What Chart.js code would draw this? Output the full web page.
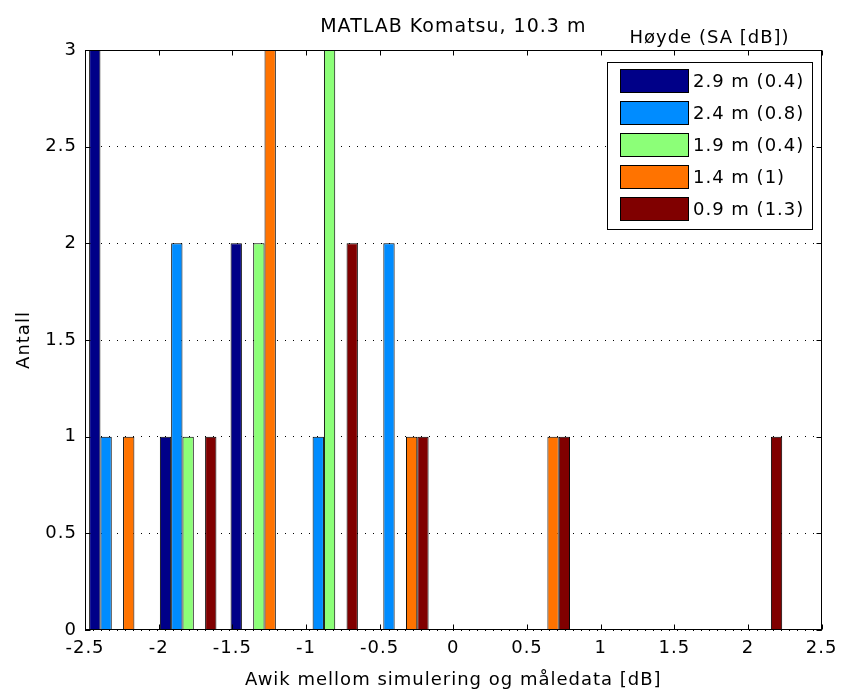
<!DOCTYPE html>
<html><head><meta charset="utf-8">
<script src="https://cdn.jsdelivr.net/npm/chart.js@4/dist/chart.umd.min.js"></script>
<style>html,body{margin:0;padding:0;background:#fff}#wrap{width:844px;height:690px;position:relative}</style>
</head><body><div id="wrap"><canvas id="c"></canvas></div>
<script>
// ---- data ----
const binCenters = [-2.28, -1.80, -1.32, -0.84, -0.36, 0.12, 0.60, 1.08, 1.56, 2.04];
const seriesLabels = ['2.9 m (0.4)', '2.4 m (0.8)', '1.9 m (0.4)', '1.4 m (1)', '0.9 m (1.3)'];
const counts29 = [3, 1, 2, 0, 0, 0, 0, 0, 0, 0];
const counts24 = [1, 2, 0, 1, 2, 0, 0, 0, 0, 0];
const counts19 = [0, 1, 2, 3, 0, 0, 0, 0, 0, 0];
const counts14 = [1, 0, 3, 0, 1, 0, 1, 0, 0, 0];
const counts09 = [0, 1, 0, 2, 1, 0, 1, 0, 0, 1];
const xTickValues = [-2.5, -2, -1.5, -1, -0.5, 0, 0.5, 1, 1.5, 2, 2.5];
const xTickLabels = ['-2.5', '-2', '-1.5', '-1', '-0.5', '0', '0.5', '1', '1.5', '2', '2.5'];
const yTickValues = [0, 0.5, 1, 1.5, 2, 2.5, 3];
const yTickLabels = ['0', '0.5', '1', '1.5', '2', '2.5', '3'];
const titleText = 'MATLAB Komatsu, 10.3 m';
const xTitle = 'Awik mellom simulering og måledata [dB]';
const yTitle = 'Antall';
const legendTitle = 'Høyde (SA [dB])';

// ---- styles ----
const seriesColors = ['#000088', '#008CFF', '#8CFF78', '#FF7300', '#800000'];
const FONT = '"DejaVu Sans", sans-serif';

const allCounts = [counts29, counts24, counts19, counts14, counts09];
const datasets = allCounts.map((arr, i) => ({
  label: seriesLabels[i],
  data: binCenters.map((x, j) => ({ x: x, y: arr[j] })),
  backgroundColor: seriesColors[i],
  borderColor: '#000',
  borderWidth: 1,
  borderSkipped: 'start',
  categoryPercentage: 0.8,
  barPercentage: 1.0
}));

const decor = {
  id: 'decor',
  beforeDraw(chart) {
    chart.ctx.letterSpacing = '1px';
  },
  afterDatasetsDraw(chart) {
    const { ctx, chartArea: a, scales: { x, y } } = chart;
    ctx.save();
    ctx.setLineDash([]);
    ctx.strokeStyle = '#000';
    ctx.lineWidth = 1;
    const L = Math.round(a.left) + 0.5, R = Math.round(a.right) - 0.5;
    const T = Math.round(a.top) + 0.5, B = Math.round(a.bottom) - 0.5;
    ctx.strokeRect(L, T, R - L, B - T);
    const tl = 5;
    ctx.beginPath();
    x.ticks.forEach(t => {
      const px = Math.round(x.getPixelForValue(t.value)) + 0.5;
      ctx.moveTo(px, B); ctx.lineTo(px, B - tl);
      ctx.moveTo(px, T); ctx.lineTo(px, T + tl);
    });
    y.ticks.forEach(t => {
      const py = Math.round(y.getPixelForValue(t.value)) + 0.5;
      ctx.moveTo(L, py); ctx.lineTo(L + tl, py);
      ctx.moveTo(R, py); ctx.lineTo(R - tl, py);
    });
    ctx.stroke();
    ctx.restore();
  },
  afterDraw(chart) {
    const { ctx, chartArea: a } = chart;
    ctx.save();
    ctx.letterSpacing = '1px';
    ctx.fillStyle = '#000';
    // title
    ctx.font = '19px ' + FONT;
    ctx.textAlign = 'center';
    ctx.textBaseline = 'alphabetic';
    ctx.fillText(titleText, (a.left + a.right) / 2, 32);
    // legend box
    const bx = 607, by = 62, bw = 205, bh = 167;
    ctx.font = '18px ' + FONT;
    ctx.fillText(legendTitle, bx + bw / 2, 43);
    ctx.fillStyle = '#fff';
    ctx.fillRect(bx, by, bw, bh);
    ctx.strokeStyle = '#000';
    ctx.lineWidth = 1;
    ctx.strokeRect(bx + 0.5, by + 0.5, bw, bh);
    chart.data.datasets.forEach((ds, i) => {
      const sy = by + 7 + i * 32;
      ctx.fillStyle = ds.backgroundColor;
      ctx.fillRect(bx + 13, sy, 69, 24);
      ctx.strokeRect(bx + 13.5, sy + 0.5, 68, 23);
      ctx.fillStyle = '#000';
      ctx.textAlign = 'left';
      ctx.textBaseline = 'middle';
      ctx.fillText(ds.label, bx + 86, sy + 13);
    });
    ctx.restore();
  }
};

new Chart(document.getElementById('c'), {
  type: 'bar',
  data: { datasets },
  options: {
    responsive: true,
    maintainAspectRatio: false,
    animation: false,
    layout: { padding: { top: 50, right: 20, left: 0, bottom: 0 } },
    plugins: { legend: { display: false }, tooltip: { enabled: false }, title: { display: false } },
    scales: {
      x: {
        type: 'linear',
        min: -2.5, max: 2.5,
        offset: false,
        grid: { display: false, offset: false, drawTicks: false },
        border: { display: false },
        afterBuildTicks: s => { s.ticks = xTickValues.map(v => ({ value: v })); },
        afterFit: s => { s.height = 60; },
        ticks: {
          autoSkip: false, maxRotation: 0, minRotation: 0,
          padding: 8, color: '#000',
          font: { family: FONT, size: 18 },
          callback: (v) => { const k = xTickValues.indexOf(v); return k >= 0 ? xTickLabels[k] : ''; }
        },
        title: {
          display: true, text: xTitle, color: '#000',
          font: { family: FONT, size: 18, lineHeight: 1 },
          padding: { top: 0, bottom: 1 }
        }
      },
      y: {
        min: 0, max: 3,
        grid: { color: '#000', lineWidth: 1, drawTicks: false },
        border: { display: false, dash: [1, 7] },
        afterBuildTicks: s => { s.ticks = yTickValues.map(v => ({ value: v })); },
        afterFit: s => { s.width = 85; },
        ticks: {
          padding: 8, color: '#000',
          font: { family: FONT, size: 18 },
          callback: (v) => { const k = yTickValues.indexOf(v); return k >= 0 ? yTickLabels[k] : ''; }
        },
        title: {
          display: true, text: yTitle, color: '#000',
          font: { family: FONT, size: 18, lineHeight: 1.2 },
          padding: { top: 14, bottom: 0 }
        }
      }
    }
  },
  plugins: [decor]
});
</script>
</body></html>
